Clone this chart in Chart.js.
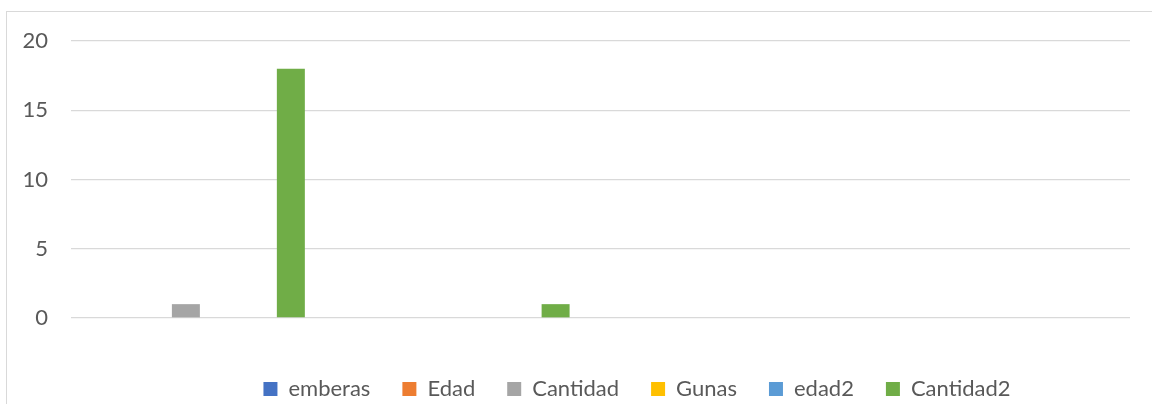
<!DOCTYPE html>
<html>
<head>
<meta charset="utf-8">
<script src="https://cdn.jsdelivr.net/npm/chart.js@4"></script>
<style>
    html, body { margin: 0; padding: 0; overflow: hidden; background: #fff; }
    #wrap { position: relative; width: 1267px; height: 410px; }
    #frame { position: absolute; left: 6px; top: 11px; width: 1300px; height: 500px; border: 1px solid #d9d9d9; box-sizing: border-box; }
    #chart { position: absolute; left: 0; top: 0; }
</style>
</head>
<body>
<div id="wrap">
    <div id="frame"></div>
    <canvas id="chart" width="1267" height="410"></canvas>
</div>
<script>
// categories have no visible labels in the original
const categories = ['', '', '', ''];

const emberas = [0, 0, 0, 0];
const edad = [0, 0, 0, 0];
const cantidad = [1, 0, 0, 0];
const gunas = [0, 0, 0, 0];
const edad2 = [0, 0, 0, 0];
const cantidad2 = [18, 1, 0, 0];

const yTicks = [0, 5, 10, 15, 20];

const font = { family: 'Lato', size: 22 };

const chart = new Chart(document.querySelector('#chart'), {
    type: 'bar',
    data: {
        labels: categories,
        datasets: [
            { label: 'emberas', data: emberas, backgroundColor: '#4472C4' },
            { label: 'Edad', data: edad, backgroundColor: '#ED7D31' },
            { label: 'Cantidad', data: cantidad, backgroundColor: '#A5A5A5' },
            { label: 'Gunas', data: gunas, backgroundColor: '#FFC000' },
            { label: 'edad2', data: edad2, backgroundColor: '#5B9BD5' },
            { label: 'Cantidad2', data: cantidad2, backgroundColor: '#70AD47' }
        ]
    },
    options: {
        responsive: false,
        animation: false,
        datasets: {
            bar: {
                categoryPercentage: 0.793,
                barPercentage: 0.8,
                borderWidth: 0
            }
        },
        layout: {
            padding: { left: 7, top: 41, right: 0, bottom: 0 }
        },
        plugins: {
            tooltip: { enabled: false },
            legend: {
                position: 'bottom',
                labels: {
                    color: '#595959',
                    font: font,
                    boxWidth: 14,
                    boxHeight: 14,
                    padding: 32
                }
            }
        },
        scales: {
            x: {
                grid: { display: false },
                border: { display: false },
                ticks: { display: false },
                afterFit: (scale) => { scale.height = 28; }
            },
            y: {
                min: 0,
                max: 20,
                afterBuildTicks: (scale) => { scale.ticks = yTicks.map(v => ({ value: v })); },
                grid: {
                    color: '#d9d9d9',
                    lineWidth: 1.3,
                    drawTicks: false
                },
                border: { display: false },
                ticks: {
                    color: '#595959',
                    font: font,
                    padding: 23
                },
                afterFit: (scale) => { scale.width = 64; }
            },
            // empty right axis: keeps the plot narrower than the legend row
            yRight: {
                position: 'right',
                grid: { display: false },
                border: { display: false },
                ticks: { display: false },
                afterFit: (scale) => { scale.width = 137; }
            }
        }
    }
});
</script>
</body>
</html>
